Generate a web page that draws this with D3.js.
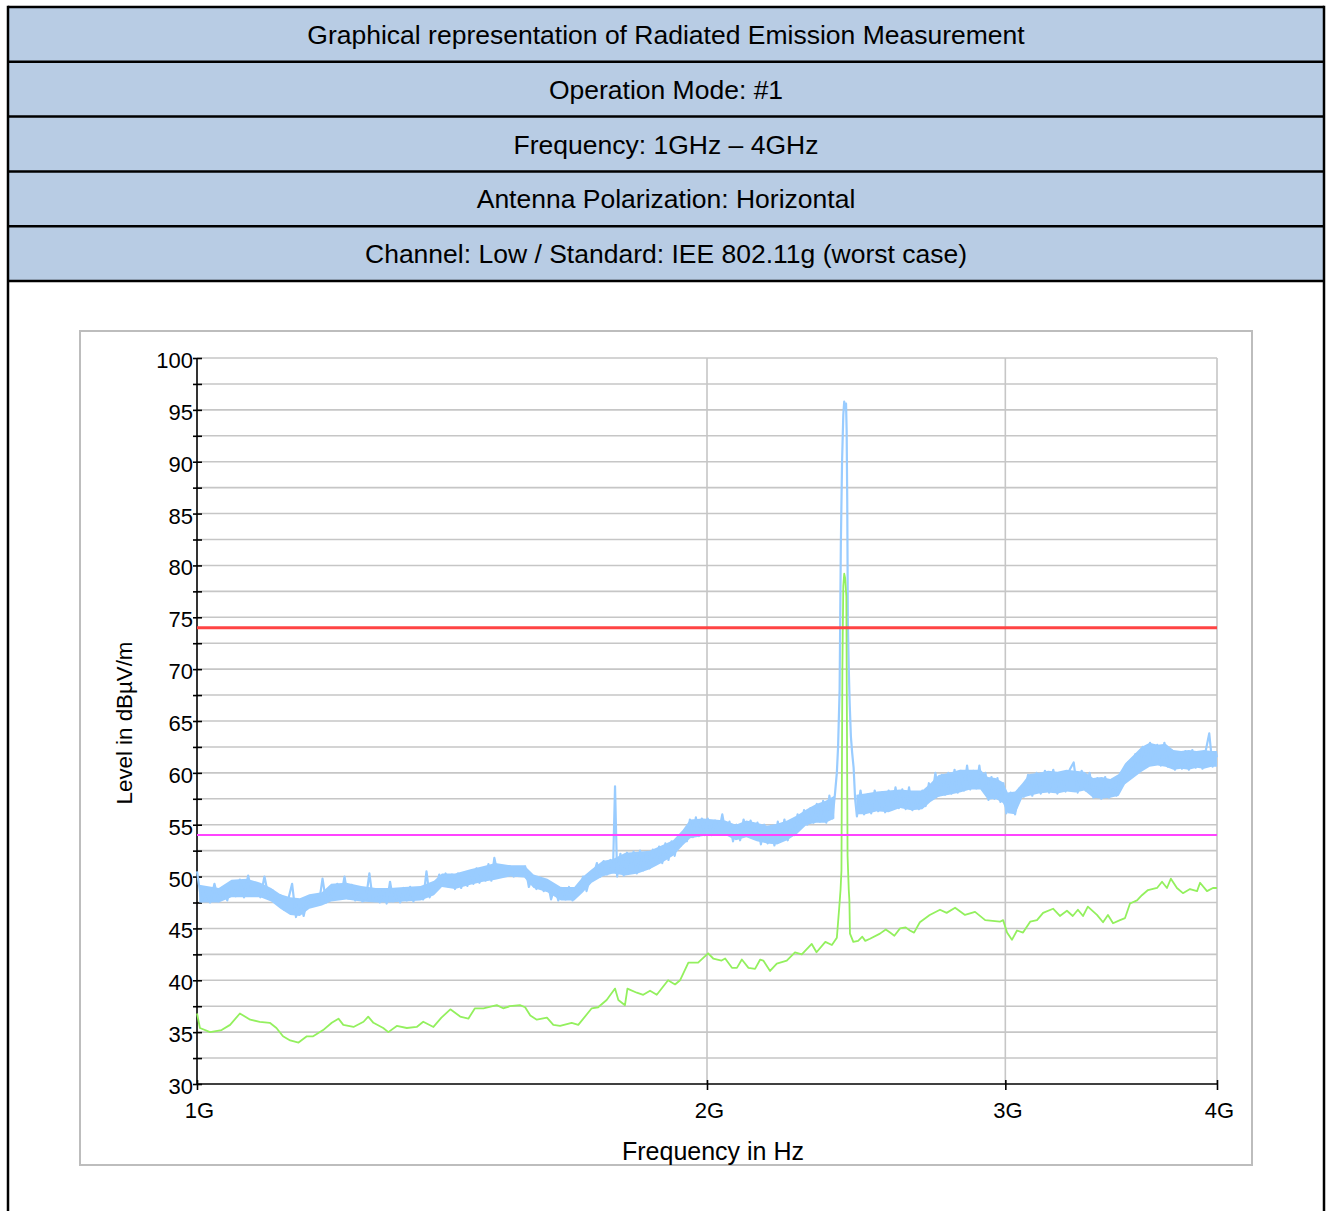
<!DOCTYPE html>
<html><head><meta charset="utf-8">
<script src="https://cdn.jsdelivr.net/npm/d3@7"></script>
<style>
body{margin:0;background:#fff}
svg{display:block}
text{font-family:"Liberation Sans",Arial,sans-serif;fill:#000}
</style>
</head><body>
<svg id="chart" width="1329" height="1211"></svg>
<script>
// ---------------- DATA ----------------
const headerRows = [
  "Graphical representation of Radiated Emission Measurement",
  "Operation Mode: #1",
  "Frequency: 1GHz \u2013 4GHz",
  "Antenna Polarization: Horizontal",
  "Channel: Low / Standard: IEE 802.11g (worst case)"
];
const xTickValues = [1000, 2000, 3000, 4000];          // MHz
const xTickLabels = ["1G", "2G", "3G", "4G"];
const yTickValues = [30,32.5,35,37.5,40,42.5,45,47.5,50,52.5,55,57.5,60,62.5,65,67.5,70,72.5,75,77.5,80,82.5,85,87.5,90,92.5,95,97.5,100];
const yLabelValues = [30,35,40,45,50,55,60,65,70,75,80,85,90,95,100];
const xTitle = "Frequency in Hz";
const yTitle = "Level in dB\u00b5V/m";
const peakLimit = 74;     // dBµV/m
const averageLimit = 54;  // dBµV/m

// Peak trace samples [MHz, dBµV/m]
const peakTrace = [
[1000,50.5],[1006,47.6],[1012,48.6],[1018,47.5],[1024,49.3],[1030,47.6],[1036,48.7],[1042,47.7],[1048,49.5],[1054,48.1],
[1060,49.7],[1066,48.0],[1072,50.1],[1078,48.2],[1084,49.2],[1090,48.0],[1096,50.0],[1102,48.1],[1108,48.7],[1114,47.6],
[1120,48.2],[1126,46.8],[1132,47.8],[1138,49.3],[1144,46.1],[1150,47.6],[1156,46.2],[1162,47.9],[1168,47.2],[1174,48.2],
[1180,47.3],[1186,49.8],[1192,47.5],[1198,49.0],[1204,47.8],[1210,49.3],[1216,48.0],[1222,50.0],[1228,47.9],[1234,49.2],
[1240,47.7],[1246,48.9],[1252,47.6],[1258,47.8],[1264,50.3],[1270,47.7],[1276,48.8],[1282,47.5],[1288,48.7],[1294,47.4],
[1300,49.5],[1306,47.6],[1312,48.7],[1318,47.5],[1324,48.9],[1330,47.7],[1336,49.0],[1342,47.6],[1348,48.8],[1354,47.9],
[1360,47.8],[1366,50.5],[1372,48.0],[1378,49.2],[1384,48.9],[1390,50.2],[1396,49.1],[1402,50.3],[1408,49.0],[1414,50.2],
[1420,48.8],[1426,50.3],[1432,48.9],[1438,50.0],[1444,49.1],[1450,50.5],[1456,49.3],[1462,50.8],[1468,49.4],[1474,50.6],
[1480,49.6],[1486,51.2],[1492,49.6],[1498,51.8],
[1506,50.0],[1514,51.0],[1522,50.1],[1530,51.0],[1538,50.0],[1546,50.9],[1554,50.1],[1562,51.0],[1570,49.0],[1578,50.0],
[1586,48.8],[1594,49.8],[1602,48.6],[1610,49.6],[1618,47.8],[1626,49.0],[1634,47.7],[1642,48.9],[1650,47.8],[1658,49.0],
[1666,47.7],[1674,48.9],[1682,48.5],[1690,50.0],[1698,48.6],[1706,49.9],[1714,50.1],[1722,51.3],[1730,50.0],[1738,51.5],
[1746,50.2],[1754,51.6],[1760,50.4],[1765,58.7],[1770,50.0],[1778,52.2],[1786,50.1],[1794,52.3],[1802,50.4],[1810,52.4],
[1818,50.3],[1826,52.5],[1834,50.6],[1842,52.3],[1850,50.8],[1858,52.6],[1866,51.2],[1874,52.9],[1882,51.3],[1890,53.2],
[1898,51.6],[1906,53.4],[1914,52.0],[1922,53.5],[1930,53.0],[1938,54.4],[1946,53.4],[1954,55.5],[1962,53.8],[1970,55.7],
[1978,53.9],[1986,55.6],[1994,54.0],
[2002,55.6],[2012,54.0],[2022,55.4],[2032,54.2],[2042,56.0],[2052,54.1],[2062,55.3],[2072,53.4],[2082,55.0],[2092,53.5],
[2102,55.5],[2112,53.9],[2122,55.4],[2132,54.0],[2142,55.2],[2152,53.1],[2162,55.0],[2172,53.2],[2182,54.9],[2192,53.0],
[2202,55.3],[2212,53.6],[2222,55.5],[2232,53.5],[2242,55.3],[2252,54.0],[2262,56.0],[2272,54.8],[2282,56.4],[2292,55.0],
[2302,56.6],[2312,55.2],[2322,57.0],[2332,55.3],[2342,57.3],[2352,55.2],[2362,57.8],[2372,55.6],[2380,58.0],
[2386,60.0],[2390,62.5],[2395,68.0],[2399,82.0],[2403,90.0],[2407,94.5],[2410,95.8],[2413,95.2],[2416,95.6],[2418,93.0],
[2420,86.0],[2422,74.5],[2425,70.0],[2428,66.7],[2432,63.5],[2436,62.0],[2441,60.5],[2446,57.5],
[2452,55.8],[2464,58.3],[2476,56.0],[2488,57.9],[2500,56.1],[2512,58.3],[2524,56.3],[2536,58.1],[2548,56.2],[2560,58.3],
[2572,56.5],[2584,58.6],[2596,56.6],[2608,58.4],[2620,56.5],[2632,58.6],[2644,56.4],[2656,58.0],[2668,56.5],[2680,58.3],
[2692,56.8],[2704,59.0],[2716,57.7],[2728,60.0],[2740,57.8],[2752,59.8],[2764,57.9],[2776,60.0],[2788,58.0],[2800,60.3],
[2812,58.1],[2824,60.2],[2836,58.3],[2848,60.7],[2860,58.4],[2872,60.2],[2884,58.5],[2896,60.7],[2908,58.4],[2920,60.0],
[2932,57.4],[2944,59.6],[2956,57.5],[2968,59.5],[2980,57.2],[2992,59.0],
[3004,56.1],[3022,58.1],[3040,56.0],[3058,58.5],[3076,57.7],[3094,59.8],[3112,57.8],[3130,60.0],[3148,58.0],[3166,60.2],
[3184,58.1],[3202,60.3],[3220,58.0],[3238,60.0],[3256,58.2],[3274,60.3],[3292,61.0],[3310,58.1],[3328,60.2],[3346,58.3],
[3364,60.0],[3382,57.6],[3400,59.5],[3418,57.5],[3436,59.6],[3454,57.6],[3472,59.4],[3490,57.8],[3508,60.0],[3526,59.0],
[3544,61.0],[3562,59.6],[3580,61.8],[3598,60.2],[3616,62.5],[3634,60.6],[3652,62.9],[3670,60.8],[3688,62.7],[3706,60.7],
[3724,62.9],[3742,60.6],[3760,62.2],[3778,60.3],[3796,62.0],[3814,60.4],[3832,62.1],[3850,60.3],[3868,62.2],[3886,60.5],
[3904,62.0],[3922,60.4],[3940,62.2],[3958,63.8],[3976,60.6],[3994,62.0],[4000,61.5]
];

// Dense core of the peak noise band [MHz, low, high] (null = no band)
const peakBand = [
[1003,47.5,49.2],[1030,47.5,48.9],[1048,48.0,49.7],[1070,48.0,49.8],[1090,48.0,49.4],[1106,47.6,48.9],[1120,46.9,48.3],
[1135,46.3,48.0],[1150,46.2,47.9],[1165,46.9,48.3],[1185,47.2,48.5],[1200,47.6,49.3],[1225,47.8,49.4],[1250,47.6,49.1],
[1275,47.5,48.9],[1300,47.5,48.9],[1325,47.6,49.0],[1355,47.7,49.1],[1380,48.2,49.6],[1395,49.0,50.3],[1420,48.8,50.3],
[1450,49.2,50.7],[1475,49.5,51.0],[1500,49.7,51.3],[1530,50.0,51.1],[1560,49.9,51.1],[1580,48.9,50.2],[1610,48.5,49.8],
[1640,47.7,49.0],[1670,47.7,49.0],[1690,48.5,50.0],[1710,49.4,50.7],[1735,50.0,51.5],[1760,50.3,51.7],[1790,50.1,52.3],
[1820,50.3,52.4],[1850,50.7,52.5],[1880,51.3,53.0],[1910,52.0,53.5],[1935,53.0,54.5],[1955,53.7,55.5],[1990,53.9,55.6],
[2020,54.0,55.5],[2050,54.0,55.4],[2080,53.5,55.0],[2110,53.8,55.4],[2140,53.4,55.2],[2170,53.2,54.9],[2200,53.1,55.1],
[2230,53.5,55.4],[2260,54.1,55.9],[2290,55.0,56.5],[2320,55.2,57.0],[2350,55.2,57.3],[2378,55.6,57.8],
[2413,null,null],
[2450,56.0,57.9],[2480,56.0,58.0],[2520,56.3,58.2],[2560,56.2,58.3],[2600,56.6,58.4],[2640,56.4,58.3],[2680,56.5,58.3],
[2710,57.2,59.0],[2740,57.7,59.8],[2780,57.9,60.0],[2820,58.1,60.3],[2860,58.4,60.3],[2900,58.4,60.3],[2930,57.4,59.6],
[2960,57.5,59.5],[2990,57.1,59.1],[3010,56.1,58.1],[3040,56.0,58.2],[3070,57.6,59.0],[3100,57.8,59.9],[3140,58.0,60.0],
[3180,58.1,60.2],[3220,58.0,60.1],[3260,58.2,60.3],[3300,58.1,60.2],[3340,58.3,60.1],[3380,57.6,59.5],[3420,57.5,59.6],
[3460,57.6,59.4],[3500,57.8,59.9],[3530,58.9,60.9],[3570,59.5,61.7],[3610,60.1,62.5],[3650,60.6,62.9],[3690,60.7,62.7],
[3730,60.6,62.8],[3770,60.3,62.2],[3810,60.4,62.1],[3850,60.3,62.2],[3890,60.5,62.1],[3930,60.4,62.2],[3970,60.6,62.1],
[4000,60.6,62.1]
];

// Average trace [MHz, dBµV/m]
const averageTrace = [
[1000,36.8],[1004,35.4],[1018,35.0],[1034,35.2],[1046,35.7],[1060,36.8],[1075,36.2],[1089,36.0],[1104,35.9],[1114,35.4],
[1124,34.6],[1135,34.2],[1148,34.0],[1161,34.6],[1171,34.6],[1187,35.2],[1201,35.9],[1212,36.3],[1220,35.7],[1237,35.5],
[1254,36.0],[1262,36.5],[1271,35.9],[1288,35.4],[1297,35.0],[1312,35.6],[1330,35.4],[1348,35.5],[1360,36.0],[1379,35.5],
[1394,36.4],[1411,37.2],[1430,36.5],[1446,36.3],[1459,37.3],[1476,37.3],[1503,37.6],[1516,37.3],[1530,37.5],[1551,37.6],
[1562,37.4],[1573,36.6],[1587,36.2],[1609,36.4],[1623,35.7],[1638,35.6],[1664,35.9],[1679,35.7],[1710,37.3],[1725,37.4],
[1745,38.1],[1765,39.2],[1773,38.1],[1789,37.6],[1795,39.2],[1818,38.8],[1834,38.6],[1851,39.0],[1868,38.6],[1897,40.0],
[1915,39.6],[1928,40.0],[1950,41.7],[1976,41.7],[2003,42.6],[2017,42.1],[2040,41.9],[2050,42.1],[2069,41.2],[2083,41.2],
[2097,42.0],[2116,41.2],[2135,41.1],[2150,42.0],[2159,41.9],[2179,40.9],[2199,41.6],[2229,41.9],[2254,42.7],[2275,42.5],
[2306,43.5],[2321,42.7],[2349,43.7],[2370,43.4],[2386,44.1],[2394,47.1],[2398,48.7],[2401,50.6],[2404,70.0],[2407,78.0],
[2410,79.2],[2413,78.8],[2417,77.0],[2421,52.0],[2425,48.7],[2427,47.7],[2429,44.5],[2440,43.7],[2456,43.8],[2470,44.2],
[2480,43.8],[2496,44.0],[2530,44.5],[2550,44.9],[2565,44.6],[2580,44.3],[2600,45.0],[2620,45.1],[2635,44.8],[2650,44.6],
[2671,45.6],[2707,46.3],[2745,46.8],[2770,46.5],[2802,47.0],[2840,46.3],[2879,46.6],[2919,45.8],[2978,45.65],[2991,45.8],
[3007,44.6],[3027,43.9],[3048,44.8],[3073,44.6],[3103,45.65],[3132,45.8],[3158,46.5],[3201,46.9],[3231,46.2],[3262,46.7],
[3288,46.2],[3311,46.8],[3334,46.2],[3356,47.1],[3398,46.3],[3426,45.6],[3449,46.3],[3473,45.5],[3506,45.8],[3530,46.0],
[3554,47.4],[3588,47.7],[3612,48.2],[3642,48.7],[3687,48.9],[3712,49.5],[3737,48.9],[3757,49.8],[3788,48.9],[3819,48.4],
[3856,48.8],[3893,48.6],[3909,49.4],[3946,48.6],[3978,48.9],[4000,48.9]
];

// ---------------- DRAWING ----------------
const FONT = '"Liberation Sans",Arial,sans-serif';
const svg = d3.select("#chart");

// header table
const tblL = 8, tblR = 1324, tblTop = 7, rowH = 54.8;
svg.append("rect").attr("x", tblL).attr("y", tblTop).attr("width", tblR - tblL)
   .attr("height", rowH * headerRows.length).attr("fill", "#b8cce4");
headerRows.forEach((t, i) => {
  svg.append("text").attr("x", (tblL + tblR) / 2).attr("y", tblTop + rowH * i + rowH / 2)
     .attr("dy", "0.36em").attr("text-anchor", "middle").style("font-size", "26.5px").text(t);
});
for (let i = 0; i <= headerRows.length; i++) {
  svg.append("line").attr("x1", tblL).attr("x2", tblR)
     .attr("y1", tblTop + rowH * i).attr("y2", tblTop + rowH * i)
     .attr("stroke", "#000").attr("stroke-width", 2.5);
}
[tblL, tblR].forEach(xx => svg.append("line").attr("x1", xx).attr("x2", xx)
   .attr("y1", tblTop - 1.2).attr("y2", 1215).attr("stroke", "#000").attr("stroke-width", 2.5));

// chart frame
svg.append("rect").attr("x", 80).attr("y", 331).attr("width", 1172).attr("height", 834)
   .attr("fill", "#fff").attr("stroke", "#bdbdbd").attr("stroke-width", 2);

const plotL = 197, plotR = 1217, plotT = 358, plotB = 1084;
const x = d3.scaleLog().domain([1000, 4000]).range([plotL, plotR]);
const y = d3.scaleLinear().domain([30, 100]).range([plotB, plotT]);

const g = svg.append("g");

// gridlines
g.selectAll("line.hgrid").data(yTickValues.filter(v => v > 30)).enter().append("line")
  .attr("x1", plotL).attr("x2", plotR).attr("y1", d => y(d)).attr("y2", d => y(d))
  .attr("stroke", "#c6c6c6").attr("stroke-width", 1.6);
g.selectAll("line.vgrid").data(xTickValues.filter(v => v > 1000)).enter().append("line")
  .attr("x1", d => x(d)).attr("x2", d => x(d)).attr("y1", plotT).attr("y2", plotB)
  .attr("stroke", "#c6c6c6").attr("stroke-width", 1.6);

// axes
const yAxis = d3.axisLeft(y).tickValues(yTickValues)
  .tickFormat(d => yLabelValues.includes(d) ? String(d) : "")
  .tickSize(4).tickPadding(0);
const yg = svg.append("g").attr("transform", `translate(${plotL},0)`).call(yAxis);
yg.select(".domain").attr("stroke", "#000").attr("stroke-width", 1.6).attr("d", `M0,${plotT}V${plotB}`);
yg.selectAll(".tick line").attr("x1", -4).attr("x2", 5).attr("stroke", "#000").attr("stroke-width", 1.6);
yg.selectAll(".tick text").attr("x", -4).attr("dy", "0.43em")
  .style("font-size", "22px").style("font-family", FONT).attr("fill", "#000");

const xAxis = d3.axisBottom(x).tickValues(xTickValues)
  .tickFormat((d, i) => xTickLabels[i]).tickSize(6).tickPadding(12);
const xg = svg.append("g").attr("transform", `translate(0,${plotB})`).call(xAxis);
xg.select(".domain").attr("stroke", "#000").attr("stroke-width", 1.6).attr("d", `M${plotL},0H${plotR}`);
xg.selectAll(".tick line").attr("y1", -4).attr("y2", 6).attr("stroke", "#000").attr("stroke-width", 1.6);
xg.selectAll(".tick text").attr("x", 2)
  .style("font-size", "22px").style("font-family", FONT).attr("fill", "#000");

// axis titles
svg.append("text").attr("x", 713).attr("y", 1160).attr("text-anchor", "middle")
   .style("font-size", "25px").text(xTitle);
svg.append("text").attr("transform", `translate(132,723) rotate(-90)`).attr("text-anchor", "middle")
   .style("font-size", "22.3px").text(yTitle);

// traces
const PEAK_COLOR = "#99ccff", AVG_COLOR = "#93f05e";
const band = d3.area().defined(d => d[1] != null)
  .x(d => x(d[0])).y0(d => y(d[1])).y1(d => y(d[2]));
svg.append("path").datum(peakBand).attr("d", band).attr("fill", PEAK_COLOR).attr("stroke", "none");
const line = d3.line().x(d => x(d[0])).y(d => y(d[1]));
svg.append("path").datum(peakTrace).attr("d", line).attr("fill", "none")
   .attr("stroke", PEAK_COLOR).attr("stroke-width", 2.2).attr("stroke-linejoin", "round");
svg.append("path").datum(averageTrace).attr("d", line).attr("fill", "none")
   .attr("stroke", AVG_COLOR).attr("stroke-width", 1.8).attr("stroke-linejoin", "round");

// limit lines
svg.append("line").attr("x1", plotL).attr("x2", plotR).attr("y1", y(peakLimit)).attr("y2", y(peakLimit))
   .attr("stroke", "#ff4444").attr("stroke-width", 3);
svg.append("line").attr("x1", plotL).attr("x2", plotR).attr("y1", y(averageLimit)).attr("y2", y(averageLimit))
   .attr("stroke", "#ff44ff").attr("stroke-width", 2);
</script>
</body></html>
